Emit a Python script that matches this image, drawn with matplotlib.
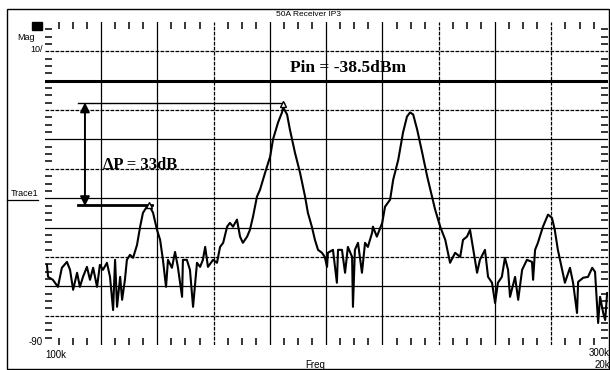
import matplotlib
matplotlib.use("Agg")
import matplotlib.pyplot as plt
from matplotlib.ticker import MultipleLocator
from matplotlib.patches import Rectangle
from matplotlib.lines import Line2D

# ---------------- data (kHz, dB) ----------------
freq_khz = [
    100.8, 101.2, 102.9, 104.7, 106.1, 107.9, 109.0, 110.1, 111.5, 112.5,
    113.6, 115.0, 116.1, 117.2, 118.6, 119.6, 120.7, 122.1, 123.2, 124.3,
    125.0, 125.7, 126.8, 127.5, 128.5, 129.2, 130.3, 131.4, 132.8, 133.9,
    134.9, 136.3, 137.4, 138.5, 139.9, 141.0, 142.0, 143.1, 143.8, 145.2,
    146.3, 147.3, 148.8, 149.1, 150.5, 151.6, 152.7, 154.1, 155.2, 156.2,
    157.0, 158.0, 159.8, 161.2, 162.3, 163.4, 164.8, 165.8, 166.9, 168.3,
    169.4, 170.4, 171.9, 172.9, 174.0, 175.4, 176.5, 178.3, 180.1, 181.1,
    182.9, 184.3, 184.7, 186.1, 187.1, 188.9, 190.7, 192.5, 193.5, 194.9,
    196.0, 197.1, 198.5, 199.5, 200.3, 200.6, 202.4, 203.8, 204.2, 205.6,
    206.7, 207.7, 209.2, 209.5, 210.2, 211.3, 212.7, 213.8, 214.8, 216.3,
    216.6, 218.0,
    219.9, 220.9, 222.7, 223.8, 225.6, 227.3, 228.7, 229.8, 230.9, 232.3,
    234.1, 235.9, 237.6, 238.7, 240.5, 242.3, 244.0, 245.8, 247.6, 248.6,
    250.0, 251.1, 252.1, 253.6, 254.6, 256.4, 257.5, 258.9, 260.0, 261.0,
    262.4,
    263.5, 264.6, 265.3, 267.1, 268.2, 269.6, 271.3, 273.1, 273.5, 274.2,
    275.2, 277.0, 278.8, 280.2, 281.2, 282.3, 283.8, 284.8, 286.6, 287.7,
    289.1, 289.5, 291.3, 293.0, 294.5, 295.5, 296.6, 297.3, 298.4, 299.1,
    299.8,
]
level_db = [
    -62.7, -66.8, -67.8, -70.2, -63.7, -61.7, -64.4, -71.2, -65.4, -70.2,
    -66.8, -63.4, -67.8, -63.7, -70.2, -62.7, -64.4, -62.0, -66.8, -78.1,
    -61.0, -77.0, -66.8, -74.6, -67.8, -61.0, -59.3, -60.3, -55.9, -49.7,
    -45.0, -42.9, -42.9, -45.0, -50.8, -54.2, -61.0, -70.2, -61.0, -63.7,
    -58.3, -63.4, -73.6, -61.0, -61.0, -64.4, -77.0, -62.0, -63.4, -61.0,
    -56.6, -63.4, -61.0, -62.0, -56.6, -55.2, -49.7, -48.4, -49.7, -47.3,
    -53.1, -55.2, -53.1, -50.8, -46.3, -39.5, -37.1, -31.3, -25.8, -20.0,
    -14.2, -10.8, -9.1, -11.5, -16.6, -24.5, -31.3, -39.5, -45.0, -49.7,
    -54.2, -57.6, -58.6, -60.0, -63.4, -58.6, -57.6, -68.8, -57.6, -57.6,
    -65.4, -56.6, -60.0, -77.0, -57.6, -55.2, -65.4, -55.2, -56.6, -51.8,
    -49.7, -53.1,
    -48.4, -42.9, -40.5, -33.7, -26.9, -17.6, -12.2, -10.8, -11.5, -16.6,
    -24.5, -32.7, -39.5, -43.9, -49.7, -54.2, -62.0, -58.6, -60.0, -54.2,
    -53.1, -50.8, -56.6, -65.4, -61.0, -57.6, -66.8, -68.8, -75.7, -68.8,
    -66.8,
    -60.3, -64.4, -73.6, -66.8, -74.6, -64.4, -61.0, -61.7, -67.8, -57.6,
    -55.2, -49.7, -45.6, -46.7, -50.8, -57.6, -64.4, -68.8, -63.7, -68.8,
    -79.1, -68.5, -67.1, -66.8, -63.7, -65.1, -82.5, -73.6, -79.1, -81.5,
    -72.3,
]

pin_level = 0.0          # Pin reference line (dB on display)
tone_level = -7.7        # fundamental reference level
im3_level = -42.2        # IM3 reference level
ref_start = 111.7        # start of reference lines (kHz)
tone_ref_end = 185.0
im3_ref_end = 138.2
arrow_freq = 114.3
marker_freqs = [184.7, 137.0]
marker_levels = [-8.0, -42.2]

pin_text = "Pin = -38.5dBm"
dp_text = "ΔP = 33dB"
pin_text_pos = (207.8, 4.5)
dp_text_pos = (133.9, -28.6)

x_min, x_max = 100, 300
y_min, y_max = -90, 20

# ---------------- figure ----------------
W, H = 610, 370
fig = plt.figure(figsize=(W / 100, H / 100), dpi=100)
fig.patch.set_facecolor("white")

ax = fig.add_axes([44.7 / W, 1 - 345 / H, 563 / W, 323 / H])
ax.set_xlim(x_min, x_max)
ax.set_ylim(y_min, y_max)
for s in ax.spines.values():
    s.set_visible(False)

ax.xaxis.set_major_locator(MultipleLocator(20))
ax.xaxis.set_minor_locator(MultipleLocator(5))
ax.yaxis.set_major_locator(MultipleLocator(10))
ax.yaxis.set_minor_locator(MultipleLocator(2.5))
ax.tick_params(which="both", direction="in", top=True, right=True,
               bottom=True, left=True, labelbottom=False, labelleft=False,
               color="black")
ax.tick_params(which="major", length=0)
ax.tick_params(which="minor", length=5, width=1.1)

dotted_y = {10, -10, -30, -60, -80}
for yv in range(-80, 20, 10):
    if yv == 0:
        continue
    ls = (0, (3, 1)) if yv in dotted_y else "-"
    ax.axhline(yv, color="black", lw=0.9, ls=ls, zorder=1)
dotted_x = {160, 240, 280}
for xv in range(120, 300, 20):
    ls = (0, (3, 1)) if xv in dotted_x else "-"
    ax.axvline(xv, color="black", lw=0.9, ls=ls, zorder=1)

ax.axhline(pin_level, color="black", lw=2.2, zorder=2)

ax.plot(freq_khz, level_db, color="black", lw=1.5, zorder=3)

ax.plot([ref_start, tone_ref_end], [tone_level, tone_level], color="black", lw=1.0, zorder=3)
ax.plot([ref_start, im3_ref_end], [im3_level, im3_level], color="black", lw=2.0, zorder=3)
ax.annotate("", xy=(arrow_freq, im3_level - 0.5), xytext=(arrow_freq, tone_level + 0.3),
            arrowprops=dict(arrowstyle="<|-|>", color="black", lw=1.4,
                            mutation_scale=14, shrinkA=0, shrinkB=0), zorder=4)
ax.plot(marker_freqs, marker_levels, ls="none", marker="^", ms=5,
        mfc="white", mec="black", mew=1.0, zorder=5)

ax.text(pin_text_pos[0], pin_text_pos[1], pin_text, fontfamily="Liberation Serif",
        fontweight="bold", fontsize=12.5, ha="center", va="center", zorder=6)
ax.text(dp_text_pos[0], dp_text_pos[1], dp_text, fontfamily="Liberation Serif",
        fontweight="bold", fontsize=12, ha="center", va="center", zorder=6)

def fx(px):
    return px / W

def fy(py):
    return 1 - py / H

small = dict(fontfamily=["Liberation Sans Narrow", "Liberation Sans", "DejaVu Sans"],
             color="black")

fig.add_artist(Rectangle((fx(7), fy(369)), fx(609) - fx(7), fy(9) - fy(369),
                         transform=fig.transFigure, fill=False, ec="black", lw=1.0))
fig.text(fx(308), fy(14), "50A Receiver IP3", ha="center", va="center", fontsize=6, **small)
fig.add_artist(Rectangle((fx(32), fy(30)), fx(42) - fx(32), fy(22) - fy(30),
                         transform=fig.transFigure, fc="black", ec="black"))
fig.text(fx(17), fy(37), "Mag", ha="left", va="center", fontsize=6.5, **small)
fig.text(fx(43), fy(49), "10/", ha="right", va="center", fontsize=6.5, **small)
fig.text(fx(11), fy(194), "Trace1", ha="left", va="center", fontsize=6.5, **small)
fig.add_artist(Line2D([fx(7), fx(38)], [fy(200), fy(200)], transform=fig.transFigure,
                      color="black", lw=0.9))
fig.text(fx(43), fy(342), "-90", ha="right", va="center", fontsize=7, **small)
fig.text(fx(45), fy(355), "100k", ha="left", va="center", fontsize=7, **small)
fig.text(fx(610), fy(353), "300k", ha="right", va="center", fontsize=7, **small)
fig.text(fx(610), fy(365), "20k", ha="right", va="center", fontsize=7, **small)
fig.text(fx(315), fy(365), "Freq", ha="center", va="center", fontsize=7, **small)

fig.savefig("out.png", dpi=100, facecolor="white")
